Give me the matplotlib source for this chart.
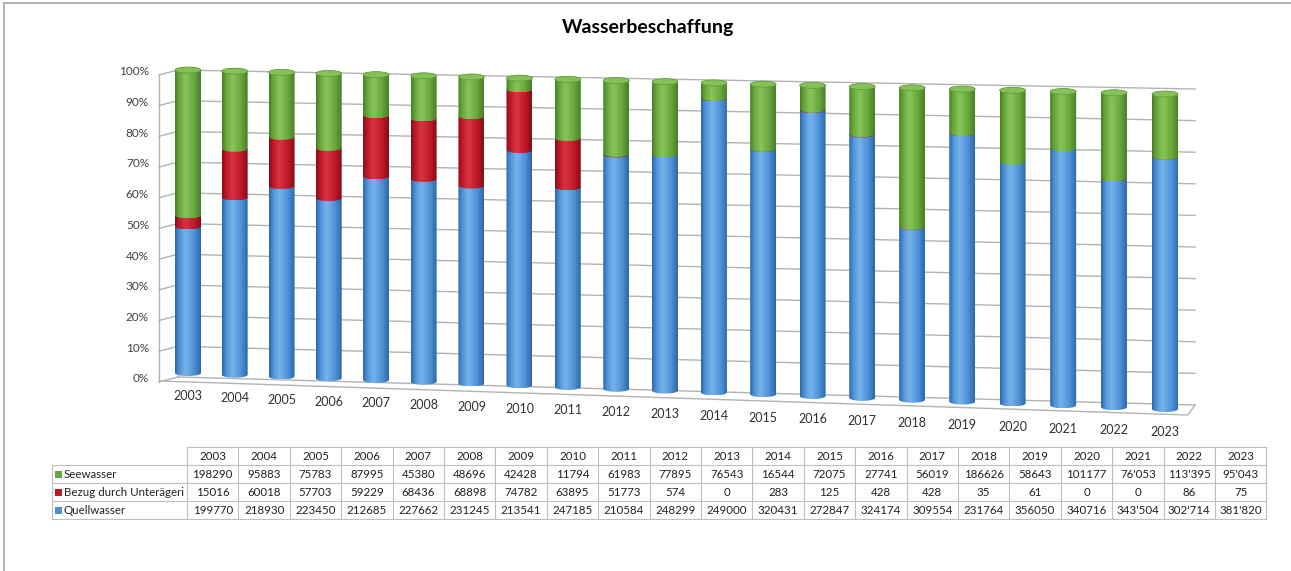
import numpy as np
import matplotlib.pyplot as plt
from matplotlib.colors import LinearSegmentedColormap
from matplotlib.path import Path
from matplotlib.patches import PathPatch, Ellipse, Rectangle

years = [str(y) for y in range(2003, 2024)]
seewasser = ['198290', '95883', '75783', '87995', '45380', '48696', '42428', '11794',
             '61983', '77895', '76543', '16544', '72075', '27741', '56019', '186626',
             '58643', '101177', "76'053", "113'395", "95'043"]
bezug = ['15016', '60018', '57703', '59229', '68436', '68898', '74782', '63895',
         '51773', '574', '0', '283', '125', '428', '428', '35',
         '61', '0', '0', '86', '75']
quellwasser = ['199770', '218930', '223450', '212685', '227662', '231245', '213541', '247185',
               '210584', '248299', '249000', '320431', '272847', '324174', '309554', '231764',
               '356050', '340716', "343'504", "302'714", "381'820"]
series_names = ['Seewasser', 'Bezug durch Unterägeri', 'Quellwasser']
pct_ticks = list(range(0, 101, 10))


def num(vals):
    return np.array([float(v.replace("'", "")) for v in vals])


see = num(seewasser)
bez = num(bezug)
que = num(quellwasser)
total = see + bez + que
stack = [que / total * 100, bez / total * 100, see / total * 100]

plt.rcParams['font.family'] = ['Lato', 'DejaVu Sans']

W, H = 1291, 571
fig = plt.figure(figsize=(W / 100, H / 100), dpi=100)


def box(l, t, r, b):
    return [l / W, 1 - b / H, (r - l) / W, (b - t) / H]


# pixel helpers for the fake 3d perspective
BAR0, STEP = 190.7, 48.9
Y0, PPU = 377.0, 3.07


def px2i(px):
    return (px - BAR0) / STEP


def py2u(py):
    return (Y0 - py) / PPU


def xpos(i):
    # bars get slightly wider apart towards the right (perspective)
    i = np.asarray(i, float)
    return px2i(188 + 46.55 * i + 0.115 * i ** 2)


def plane(x, pct, x0, b0, t0, x1, b1, t1):
    f = (np.asarray(x, float) - x0) / (x1 - x0)
    base = b0 + (b1 - b0) * f
    top = t0 + (t1 - t0) * f
    return base + (top - base) * np.asarray(pct, float) / 100


def wall(x, pct):
    return plane(x, pct, px2i(178), py2u(377), py2u(70), px2i(1195), py2u(405), py2u(89))


def front(x, pct):
    return plane(x, pct, xpos(0), py2u(373), py2u(70), xpos(20), py2u(409), py2u(94))


ax = fig.add_axes(box(140, 50, 1210, 445))
ax.set_axis_off()

grid_c = '#B3B3B3'
wl, wr, sl = px2i(178), px2i(1195), px2i(159)
for p in pct_ticks:
    ax.plot([wl, wr], [wall(wl, p), wall(wr, p)], color=grid_c, lw=1, zorder=1)
    ax.plot([sl, wl], [wall(wl, p) - 1.6, wall(wl, p)], color=grid_c, lw=1, zorder=1)
    ax.text(px2i(149), wall(wl, p) - 0.6, f'{p}%', ha='right', va='center', fontsize=8.5, color='#404040')
ax.plot([wl, wl], [wall(wl, 0), wall(wl, 100)], color=grid_c, lw=1, zorder=1)
ax.plot([sl, sl], [wall(wl, 0) - 1.6, wall(wl, 100) - 1.6], color=grid_c, lw=1, zorder=1)
# floor
fl, fr = px2i(160), px2i(1188)
ax.plot([fl, fr, wr], [py2u(381), py2u(415), wall(wr, 0)], color=grid_c, lw=1, zorder=1)

cols = {
    'blue': ['#2C68A8', '#4D90D6', '#76B3EC', '#4D90D6', '#2C68A8'],
    'red': ['#860C18', '#BE1828', '#D93444', '#BE1828', '#860C18'],
    'green': ['#467F27', '#67A63B', '#88C45A', '#67A63B', '#467F27'],
}
cmaps = {k: LinearSegmentedColormap.from_list(k, list(zip([0, 0.15, 0.4, 0.75, 1], v)))
         for k, v in cols.items()}
seg_colors = ['blue', 'red', 'green']

hw = 13 / STEP
eh = 3 / PPU
grad = np.linspace(0, 1, 64).reshape(1, -1)
t_low = np.linspace(0, -np.pi, 30)
t_up = np.linspace(np.pi, 0, 30)

for i in range(len(years)):
    xc = float(xpos(i))
    cum = 0.0
    for k, vals in enumerate(stack):
        v = vals[i]
        if v <= 0:
            continue
        lo, hi = cum, cum + v
        cum = hi
        ylo, yhi = float(front(xc, lo)), float(front(xc, hi))
        last = k == len(stack) - 1
        verts = [(xc - hw, yhi), (xc + hw, yhi), (xc + hw, ylo)]
        verts += list(zip(xc + hw * np.cos(t_low), ylo + eh * np.sin(t_low)))
        if last:
            verts += list(zip(xc + hw * np.cos(t_up), yhi + eh * np.sin(t_up)))
        verts.append((xc - hw, yhi))
        patch = PathPatch(Path(verts), fc='none', ec='none')
        ax.add_patch(patch)
        im = ax.imshow(grad, extent=(xc - hw, xc + hw, ylo - eh, yhi + eh), cmap=cmaps[seg_colors[k]],
                       aspect='auto', interpolation='bilinear', zorder=3 + k)
        im.set_clip_path(patch)
        if last:
            ax.add_patch(Ellipse((xc, yhi), 2 * hw, 2 * eh, fc='#86C05A', ec='#5E9A36', lw=0.5, zorder=7))
    ax.text(xc, float(front(xc, 0)) - 7.6, years[i], ha='center', va='center', fontsize=9, color='#303030')

ax.set_xlim(px2i(140), px2i(1210))
ax.set_ylim(py2u(445), py2u(50))

fig.text(648 / W, 1 - 27 / H, 'Wasserbeschaffung', ha='center', va='center',
         fontsize=14, fontweight='bold', color='#000000')

# data table below the chart, drawn in pixel space
tx = fig.add_axes([0, 0, 1, 1])
tx.set_xlim(0, W)
tx.set_ylim(H, 0)
tx.set_axis_off()
tx.patch.set_alpha(0)

lab_l, col0, cw = 52, 187, 51.4
rows = [447, 465, 483, 501, 519]
col_r = col0 + cw * len(years)
bc = '#BFBFBF'
tx.plot([col0, col_r], [rows[0], rows[0]], color=bc, lw=0.8)
for r in rows[1:]:
    tx.plot([lab_l, col_r], [r, r], color=bc, lw=0.8)
tx.plot([lab_l, lab_l], [rows[1], rows[-1]], color=bc, lw=0.8)
for c in range(len(years) + 1):
    x = col0 + c * cw
    tx.plot([x, x], [rows[0], rows[-1]], color=bc, lw=0.8)

for c, y in enumerate(years):
    tx.text(col0 + (c + 0.5) * cw, (rows[0] + rows[1]) / 2, y, ha='center', va='center',
            fontsize=8.3, color='#202020')
row_vals = [seewasser, bezug, quellwasser]
row_cols = [cols['green'][1], cols['red'][1], cols['blue'][1]]
for r, (name, vals, c) in enumerate(zip(series_names, row_vals, row_cols)):
    yc = (rows[r + 1] + rows[r + 2]) / 2
    tx.add_patch(Rectangle((55, yc - 3.5), 7, 7, fc=c, ec='none'))
    tx.text(64, yc, name, ha='left', va='center', fontsize=8.3, color='#202020')
    for k, v in enumerate(vals):
        tx.text(col0 + (k + 0.5) * cw, yc, v, ha='center', va='center', fontsize=8.3, color='#202020')

# outer frame (top and left edges only visible)
tx.plot([4, W], [3, 3], color='#A6A6A6', lw=1.2)
tx.plot([4, 4], [3, H], color='#A6A6A6', lw=1.2)

fig.savefig('out.png', dpi=100)
plt.close(fig)
